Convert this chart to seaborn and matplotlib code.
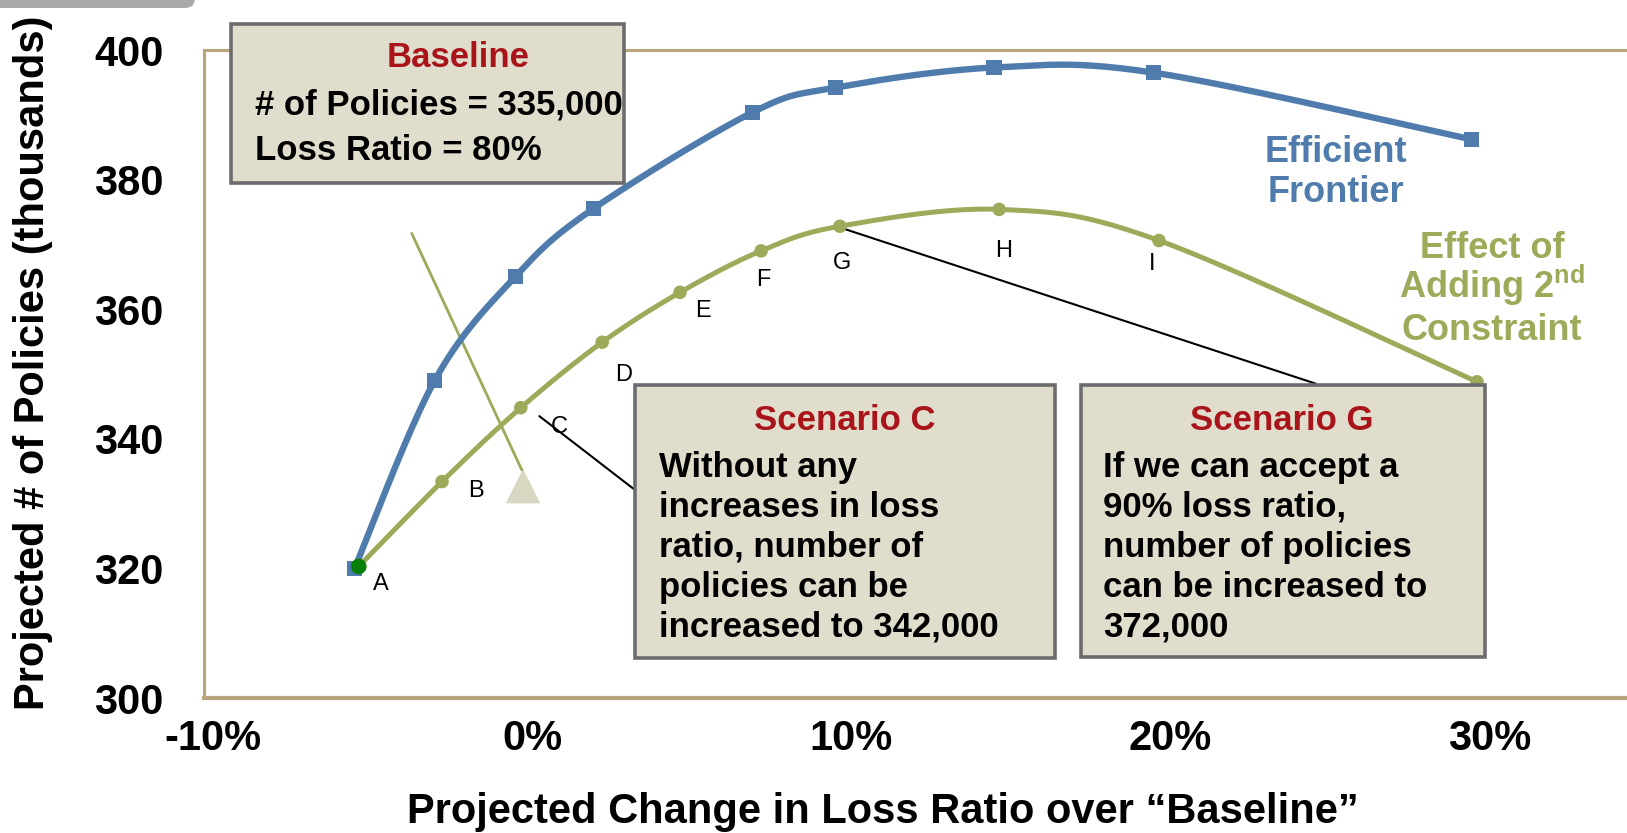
import numpy as np
import matplotlib
matplotlib.use("Agg")
import matplotlib.pyplot as plt
import matplotlib.transforms as mtransforms
from matplotlib.patches import Rectangle, FancyBboxPatch
import seaborn as sns

# ---- data -------------------------------------------------------------
frontier_x = [-5.28, -2.77, -0.23, 2.2, 7.2, 9.8, 14.76, 19.77, 29.74]
frontier_y = [320.0, 349.0, 365.1, 375.5, 390.4, 394.2, 397.3, 396.5, 386.2]

constraint_x = [-5.15, -2.54, -0.07, 2.48, 4.92, 7.46, 9.93, 14.92, 19.93, 29.9]
constraint_y = [320.3, 333.4, 344.8, 354.9, 362.6, 369.0, 372.8, 375.4, 370.6, 348.8]
point_labels = ["A", "B", "C", "D", "E", "F", "G", "H", "I"]

baseline_x = [0.0]
baseline_y = [332.7]

xticks = [-10, 0, 10, 20, 30]
xtick_labels = ["-10%", "0%", "10%", "20%", "30%"]
yticks = [300, 320, 340, 360, 380, 400]

# ---- style ------------------------------------------------------------
sns.set_theme(style="white")
plt.rcParams["font.family"] = ["Liberation Sans", "DejaVu Sans"]
plt.rcParams["mathtext.fontset"] = "custom"
plt.rcParams["mathtext.rm"] = "Liberation Sans"
plt.rcParams["mathtext.bf"] = "Liberation Sans:bold"
plt.rcParams["text.color"] = "black"
plt.rcParams["axes.labelcolor"] = "black"
plt.rcParams["xtick.color"] = "black"
plt.rcParams["ytick.color"] = "black"

BLUE = "#4f7cac"
GREEN = "#9bab59"
DARK_GREEN = "#087f08"
TAN = "#b7a67b"
BOX_FILL = "#e0ddcc"
BOX_EDGE = "#6c6c6e"
RED = "#a8141a"

W, H = 1627, 833
fig = plt.figure(figsize=(W / 100, H / 100), dpi=100)
fig.patch.set_facecolor("white")
# pixel coordinates, origin top-left
P = mtransforms.Affine2D().scale(1 / W, -1 / H).translate(0, 1) + fig.transFigure

ax = fig.add_axes([204 / W, 1 - 698 / H, (W - 204) / W, (698 - 50) / H])
ax.set_xlim(-10, 34.6)
ax.set_ylim(300, 400)


def smooth(xs, ys, n=40):
    """Cubic Bezier smoothing through every point (spreadsheet-style)."""
    pts = np.column_stack([xs, ys]).astype(float)
    out = []
    for i in range(len(pts) - 1):
        p0 = pts[max(i - 1, 0)]
        p1 = pts[i]
        p2 = pts[i + 1]
        p3 = pts[min(i + 2, len(pts) - 1)]
        c1 = p1 + (p2 - p0) / 6
        c2 = p2 - (p3 - p1) / 6
        t = np.linspace(0, 1, n)[:, None]
        seg = ((1 - t) ** 3) * p1 + 3 * ((1 - t) ** 2) * t * c1 \
            + 3 * (1 - t) * t ** 2 * c2 + t ** 3 * p2
        out.append(seg if i == 0 else seg[1:])
    return np.vstack(out)


# efficient frontier
fc = smooth(frontier_x, frontier_y)
sns.lineplot(x=fc[:, 0], y=fc[:, 1], sort=False, estimator=None, color=BLUE,
             linewidth=4.6, ax=ax, zorder=3)
sns.scatterplot(x=frontier_x, y=frontier_y, marker="s", s=118, color=BLUE,
                edgecolor="none", ax=ax, zorder=4)

# frontier with second constraint
cc = smooth(constraint_x, constraint_y)
sns.lineplot(x=cc[:, 0], y=cc[:, 1], sort=False, estimator=None, color=GREEN,
             linewidth=3.6, ax=ax, zorder=5)
sns.scatterplot(x=constraint_x[1:], y=constraint_y[1:], marker="o", s=95,
                color=GREEN, edgecolor="none", ax=ax, zorder=6)
sns.scatterplot(x=constraint_x[:1], y=constraint_y[:1], marker="o", s=128,
                color=DARK_GREEN, edgecolor="none", ax=ax, zorder=7)

# baseline marker with its pointer
sns.scatterplot(x=baseline_x, y=baseline_y, marker="^", s=620, color="#d9d6c1",
                edgecolor="none", ax=ax, zorder=2)
ax.plot([-3.49, -0.04], [371.7, 335.2], color=GREEN, linewidth=2.0, zorder=2)

# callout connectors
ax.plot([0.51, 3.51], [343.5, 332.1], color="black", linewidth=1.5, zorder=2)
ax.plot([10.0, 24.85], [372.5, 348.5], color="black", linewidth=1.5, zorder=2)

# point letters
label_offsets = [(22, -18), (34, -9), (38, -19), (21, -33), (23, -19),
                 (2, -29), (2, -37), (5, -42), (-7, -23)]
for lab, x, y, off in zip(point_labels, constraint_x, constraint_y, label_offsets):
    ax.annotate(lab, (x, y), xytext=off, textcoords="offset pixels",
                ha="center", va="center", fontsize=17, color="black", zorder=8)

# axes styling
ax.set_xticks(xticks)
ax.set_xticklabels(xtick_labels)
ax.set_yticks(yticks)
ax.tick_params(axis="both", direction="out", color=TAN, width=1.5,
               labelsize=30, labelcolor="black")
ax.tick_params(axis="x", length=8, pad=7)
ax.tick_params(axis="y", length=9, pad=20)
for lbl in ax.get_xticklabels() + ax.get_yticklabels():
    lbl.set_fontweight("bold")
shift = mtransforms.ScaledTranslation(9 / 100, 0, fig.dpi_scale_trans)
for lbl in ax.get_xticklabels():
    lbl.set_transform(lbl.get_transform() + shift)
for side in ["left", "bottom", "top"]:
    ax.spines[side].set_color(TAN)
ax.spines["left"].set_linewidth(2.2)
ax.spines["bottom"].set_linewidth(3.0)
ax.spines["top"].set_linewidth(2.2)
ax.spines["right"].set_visible(False)
ax.set_xlabel("")
ax.set_ylabel("")

fig.text(883, 823, "Projected Change in Loss Ratio over \u201cBaseline\u201d",
         transform=P, ha="center", va="baseline", fontsize=30,
         fontweight="bold", color="black")
fig.text(33, 363, "Projected # of Policies (thousands)", transform=P,
         ha="center", va="center", rotation=90, fontsize=30,
         fontweight="bold", color="black")

# series captions
fig.text(1336, 162, "Efficient", transform=P, ha="center", va="baseline",
         fontsize=26, fontweight="bold", color=BLUE)
fig.text(1336, 202, "Frontier", transform=P, ha="center", va="baseline",
         fontsize=26, fontweight="bold", color=BLUE)
fig.text(1492, 258, "Effect of", transform=P, ha="center", va="baseline",
         fontsize=26, fontweight="bold", color=GREEN)
fig.text(1492, 298, r"Adding 2$^{\mathbf{nd}}$", transform=P, ha="center",
         va="baseline", fontsize=26, fontweight="bold", color=GREEN)
fig.text(1492, 340, "Constraint", transform=P, ha="center", va="baseline",
         fontsize=26, fontweight="bold", color=GREEN)


def callout(x0, y0, x1, y1, title, title_x, title_base, lines, text_x, bases):
    fig.add_artist(Rectangle((x0, y0), x1 - x0, y1 - y0, transform=P,
                             facecolor=BOX_FILL, edgecolor=BOX_EDGE,
                             linewidth=2.6, zorder=5))
    fig.text(title_x, title_base, title, transform=P, ha="center",
             va="baseline", fontsize=25, fontweight="bold", color=RED, zorder=6)
    for line, b in zip(lines, bases):
        fig.text(text_x, b, line, transform=P, ha="left", va="baseline",
                 fontsize=25, fontweight="bold", color="black", zorder=6)


callout(231, 24, 624, 183, "Baseline", 458, 67,
        ["# of Policies = 335,000", "Loss Ratio = 80%"], 255, [114, 160])
callout(635, 385, 1055, 658, "Scenario C", 845, 430,
        ["Without any", "increases in loss", "ratio, number of",
         "policies can be", "increased to 342,000"],
        659, [477, 517, 557, 597, 637])
callout(1081, 385, 1485, 657, "Scenario G", 1282, 430,
        ["If we can accept a", "90% loss ratio,", "number of policies",
         "can be increased to", "372,000"],
        1103, [477, 517, 557, 597, 637])

# slide corner band
fig.add_artist(FancyBboxPatch((-20, -30), 215, 38, transform=P,
                              boxstyle="round,pad=0,rounding_size=10",
                              facecolor="#a9a9a9", edgecolor="none", zorder=4))

fig.savefig("out.png", dpi=100)
